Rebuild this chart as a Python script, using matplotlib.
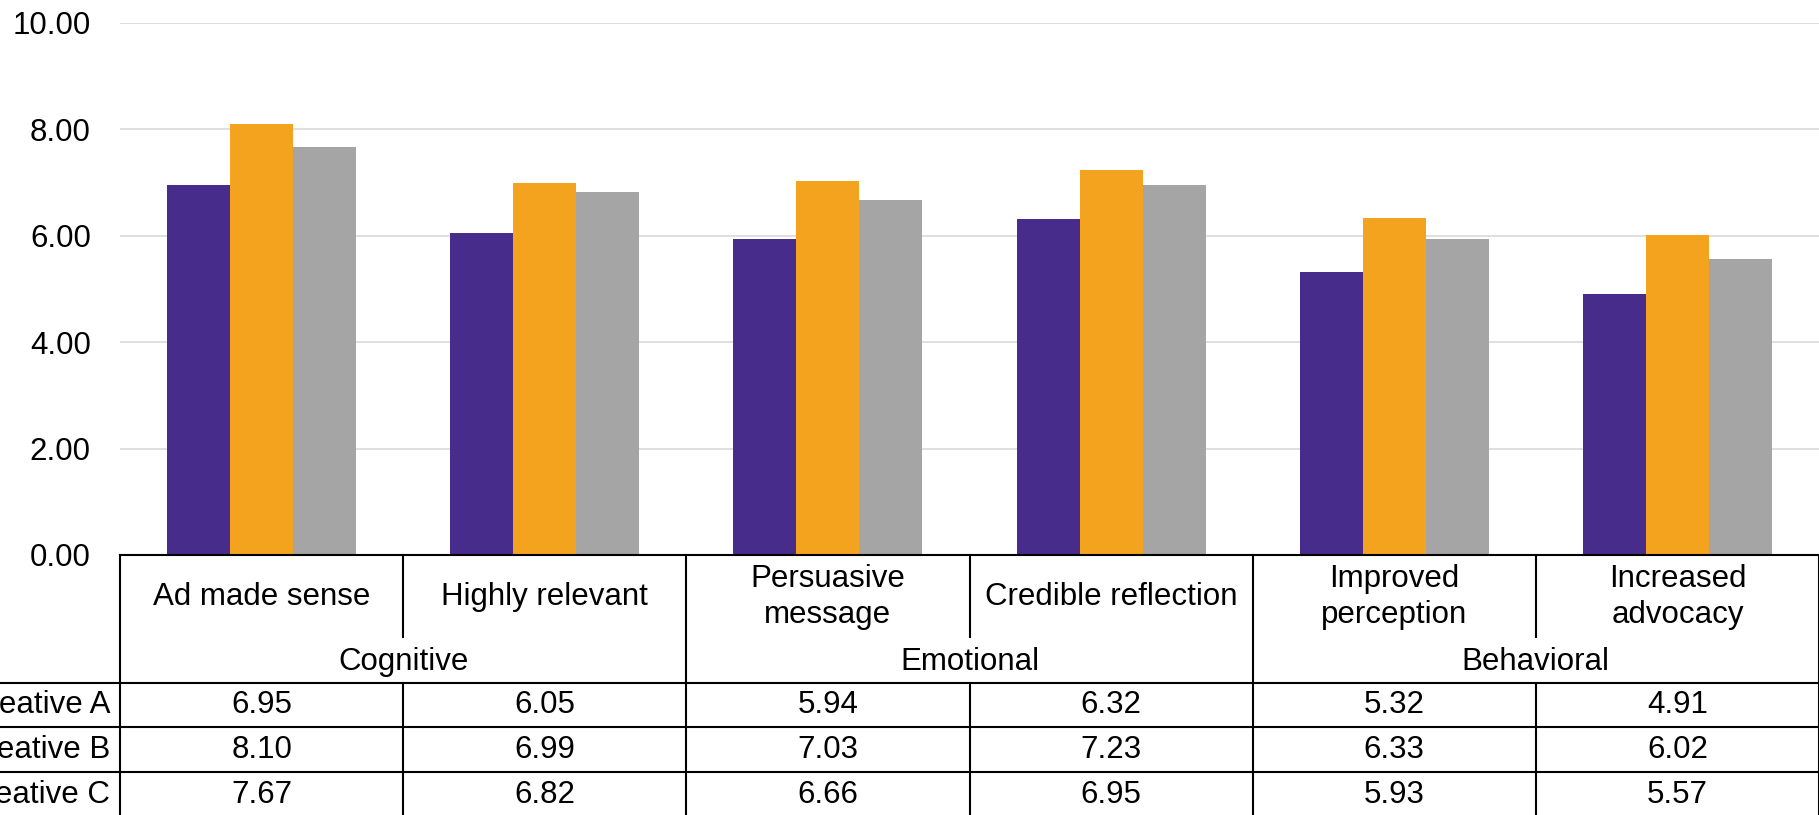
import matplotlib.pyplot as plt
import numpy as np

plt.rcParams['font.family'] = ['Liberation Sans', 'DejaVu Sans']

# data
categories = ["Ad made sense", "Highly relevant", "Persuasive\nmessage",
              "Credible reflection", "Improved\nperception", "Increased\nadvocacy"]
groups = ["Cognitive", "Emotional", "Behavioral"]
series = ["Creative A", "Creative B", "Creative C"]
creative_a = [6.95, 6.05, 5.94, 6.32, 5.32, 4.91]
creative_b = [8.10, 6.99, 7.03, 7.23, 6.33, 6.02]
creative_c = [7.67, 6.82, 6.66, 6.95, 5.93, 5.57]
colors = ["#482C8C", "#F4A31F", "#A5A5A5"]

FS = 22.5
W, H = 1819, 815
fig = plt.figure(figsize=(W / 100, H / 100), dpi=100)

x_left = 120 / W
y_zero = 555   # pixel row of 0.00 (from top)
y_top = 22.7   # pixel row of 10.00

ax = fig.add_axes([x_left, (H - y_zero) / H, 1 - x_left, (y_zero - y_top) / H])
x = np.arange(len(categories))
bw = 0.667 / 3
for k, vals in enumerate([creative_a, creative_b, creative_c]):
    ax.bar(x + (k - 1) * bw, vals, width=bw, color=colors[k], zorder=3)

ax.set_xlim(-0.5, len(categories) - 0.5)
ax.set_ylim(0, 10)
ax.set_yticks(np.arange(0, 11, 2))
ax.set_yticklabels(["%.2f" % v for v in np.arange(0, 11, 2)], fontsize=FS)
ax.tick_params(axis="y", length=0, pad=21)
ax.set_xticks([])
ax.yaxis.grid(True, color="#D9D9D9", lw=1.2, zorder=0)
for s in ax.spines.values():
    s.set_visible(False)

# table below the chart, y in pixels from the top
tab = fig.add_axes([x_left, 0, 1 - x_left, (H - y_zero) / H])
tab.set_xlim(-0.5, len(categories) - 0.5)
tab.set_ylim(H, y_zero)
tab.axis("off")

lw = 1.5
unit = (W - 120) / len(categories)  # pixels per category
x0 = -0.5 - 120 / unit              # figure left edge in data units
row_lines = [683, 727, 772]
tab.plot([-0.5, 5.5], [y_zero, y_zero], color="k", lw=lw, clip_on=False)
for yl in row_lines:
    tab.plot([x0, 5.5], [yl, yl], color="k", lw=lw, clip_on=False)

n_per_group = len(categories) // len(groups)
for i in range(len(categories) + 1):
    xv = i - 0.5
    if i % n_per_group == 0:
        tab.plot([xv, xv], [y_zero, H + 5], color="k", lw=lw, clip_on=False)
    else:
        tab.plot([xv, xv], [y_zero, 637], color="k", lw=lw, clip_on=False)
        tab.plot([xv, xv], [683, H + 5], color="k", lw=lw, clip_on=False)

for i, c in enumerate(categories):
    tab.text(i, 597, c, ha="center", va="center", fontsize=FS, linespacing=1.28)
for g, name in enumerate(groups):
    tab.text(g * n_per_group + (n_per_group - 1) / 2, 662, name,
             ha="center", va="center", fontsize=FS)

row_centers = [705, 750, 795]
for r, (name, vals) in enumerate(zip(series, [creative_a, creative_b, creative_c])):
    tab.text(-0.5 - 10 / unit, row_centers[r], name,
             ha="right", va="center", fontsize=FS, clip_on=False)
    for i, v in enumerate(vals):
        tab.text(i, row_centers[r], "%.2f" % v, ha="center", va="center", fontsize=FS)

fig.savefig("out.png", dpi=100)
